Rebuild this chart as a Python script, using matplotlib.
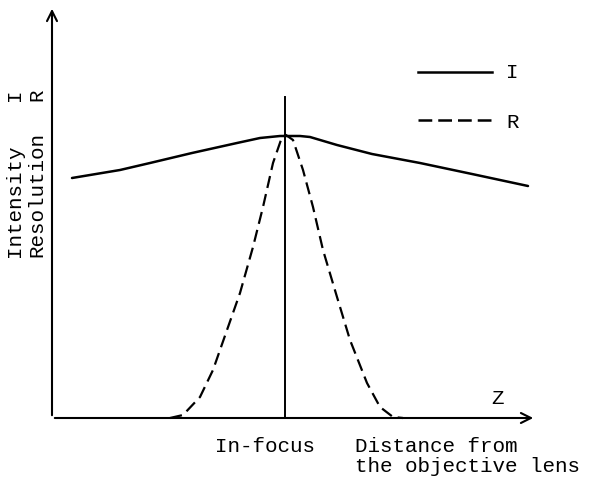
"""
Intensity and resolution versus distance from the objective lens (schematic).
"""
import matplotlib
matplotlib.use('Agg')
import matplotlib.pyplot as plt

# distance from the left axis (px-like units) and height above the z axis
i_z = [20, 68, 98, 140, 185, 208, 228, 248, 258, 285, 320, 368, 420, 476]
i_val = [240, 248, 255, 265, 275, 280, 282, 282, 281, 273, 264, 255, 244, 232]

r_z = [118, 131, 148, 161, 175, 188, 201, 211, 221, 230, 234, 241, 251, 261, 271,
       285, 298, 315, 328, 341, 351]
r_val = [0, 3, 21, 48, 88, 125, 171, 211, 255, 281, 283, 278, 248, 211, 168,
         121, 78, 35, 11, 1, 0]

focus_z = 233
legend_labels = ['I', 'R']

plt.rcParams['font.family'] = ['Liberation Mono', 'DejaVu Sans Mono']
fs = 15

fig = plt.figure(figsize=(6.08, 4.83), dpi=100)
ax = fig.add_axes([0, 0, 1, 1])
ax.set_xlim(-52, 556)
ax.set_ylim(-65, 418)
ax.axis('off')

# axes with arrows
arrow = dict(arrowstyle='->', color='black', lw=1.5, mutation_scale=18)
ax.annotate('', xy=(0, 412), xytext=(0, 0), arrowprops=arrow)
ax.annotate('', xy=(484, 0), xytext=(0, 0), arrowprops=arrow)

# in-focus line
ax.plot([focus_z, focus_z], [0, 321], color='black', lw=1.4)

# curves
ax.plot(i_z, i_val, color='black', lw=1.8, solid_capstyle='round')
ax.plot(r_z, r_val, color='black', lw=1.6, dashes=(5.5, 2.8))

# legend drawn by hand
ax.plot([366, 440], [346, 346], color='black', lw=1.8)
ax.plot([366, 440], [298, 298], color='black', lw=1.8, dashes=(5.5, 2.4))
ax.text(454, 346, legend_labels[0], fontsize=fs, va='center', ha='left')
ax.text(454, 296, legend_labels[1], fontsize=fs, va='center', ha='left')

# y labels
ax.text(-37, 161, 'Intensity', rotation=90, fontsize=fs, ha='center', va='bottom')
ax.text(-37, 323, 'I', rotation=90, fontsize=fs, ha='center', va='center')
ax.text(-15, 161, 'Resolution', rotation=90, fontsize=fs, ha='center', va='bottom')
ax.text(-15, 323, 'R', rotation=90, fontsize=fs, ha='center', va='center')

# x labels
ax.text(445, 20, 'Z', fontsize=fs, ha='center', va='center')
ax.text(213, -28, 'In-focus', fontsize=fs, ha='center', va='center')
ax.text(303, -28, 'Distance from', fontsize=fs, ha='left', va='center')
ax.text(303, -49, 'the objective lens', fontsize=fs, ha='left', va='center')

fig.savefig('out.png', dpi=100)
